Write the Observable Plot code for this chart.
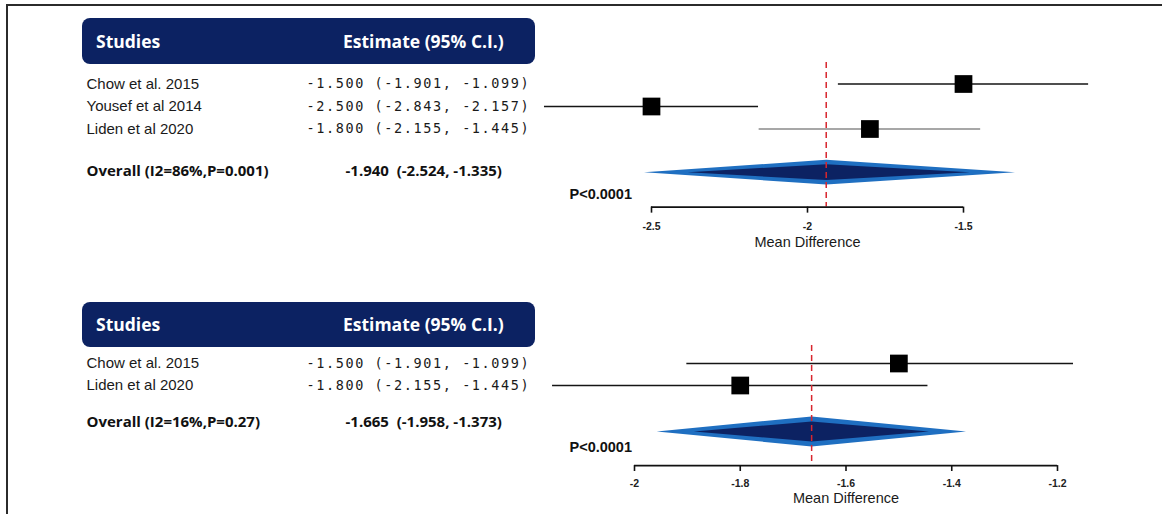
<!DOCTYPE html>
<html>
<head>
<meta charset="utf-8">
<script src="https://cdn.jsdelivr.net/npm/d3@7"></script>
<script src="https://cdn.jsdelivr.net/npm/@observablehq/plot@0.6"></script>
<style>
  html, body { margin: 0; padding: 0; background: #fff; }
  #wrap { position: relative; width: 1162px; height: 514px; overflow: hidden; background: #fff; }
  .border { position: absolute; left: 6px; top: 4px; width: 1160px; height: 514px;
            border-top: 2px solid #2b2b2b; border-left: 2px solid #2b2b2b; pointer-events: none; }
  .panel { position: absolute; left: 0; }
  .hdr { position: absolute; left: 82px; width: 453px; background: #0c2262; border-radius: 8px;
         color: #fff; font-family: "Open Sans", sans-serif; font-weight: 700; font-size: 17.5px; }
  .hdr span { position: absolute; top: 0; }
</style>
</head>
<body>
<div id="wrap"></div>
<script>
// ---- Data: panel 1 ----
const studies1 = ["Chow et al. 2015", "Yousef et al 2014", "Liden et al 2020"];
const est1 = [-1.500, -2.500, -1.800];
const lo1  = [-1.901, -2.843, -2.155];
const hi1  = [-1.099, -2.157, -1.445];
const overallLabel1 = "Overall (I2=86%,P=0.001)";
const overall1 = [-1.940, -2.524, -1.335]; // estimate, lower, upper
const pText1 = "P<0.0001";
const ticks1 = [-2.5, -2, -1.5];

// ---- Data: panel 2 ----
const studies2 = ["Chow et al. 2015", "Liden et al 2020"];
const est2 = [-1.500, -1.800];
const lo2  = [-1.901, -2.155];
const hi2  = [-1.099, -1.445];
const overallLabel2 = "Overall (I2=16%,P=0.27)";
const overall2 = [-1.665, -1.958, -1.373];
const pText2 = "P<0.0001";
const ticks2 = [-2, -1.8, -1.6, -1.4, -1.2];

const headerTexts = ["Studies", "Estimate (95% C.I.)"];
const axisTitle = "Mean Difference";

const fmt = v => v.toFixed(3);
const NAVY = "#0c2262", BLUE = "#1f6fc1", RED = "#d8262e";

function panel(data, lay) {
  const rows = data.studies.map((s, i) => ({
    name: s, est: data.est[i], lo: data.lo[i], hi: data.hi[i], row: i + 1,
    ci: `${fmt(data.est[i])} (${fmt(data.lo[i])}, ${fmt(data.hi[i])})`
  }));
  const [oe, ol, oh] = data.overall;
  const dr = lay.diamondRow;
  const outer = [
    {x: ol, y: dr}, {x: oe, y: dr - lay.dOuterH}, {x: oh, y: dr}, {x: oe, y: dr + lay.dOuterH}, {x: ol, y: dr}
  ];
  const k = 0.76;
  const inner = [
    {x: oe - k * (oe - ol), y: dr}, {x: oe, y: dr - lay.dInnerH},
    {x: oe + k * (oh - oe), y: dr}, {x: oe, y: dr + lay.dInnerH}, {x: oe - k * (oe - ol), y: dr}
  ];
  const ticks = data.ticks;
  const ax = lay.axisRow;
  const xmid = (ticks[0] + ticks[ticks.length - 1]) / 2;

  const svg = Plot.plot({
    width: 1162, height: lay.height,
    marginLeft: 0, marginRight: lay.marginRight, marginTop: 0, marginBottom: 0,
    x: {domain: [ticks[0], ticks[ticks.length - 1]], range: lay.xRange, axis: null},
    y: {domain: [1, 2], range: lay.rowY, axis: null},
    style: {background: "transparent", fontFamily: "Liberation Sans, Arial, sans-serif", overflow: "visible"},
    marks: [
      // left-hand table
      Plot.text(rows, {y: "row", text: "name", frameAnchor: "left", dx: 86, textAnchor: "start",
        fontFamily: "Liberation Sans, Arial, sans-serif", fontSize: 15, fill: "#1a1a1a"}),
      Plot.text(rows, {y: "row", text: "ci", frameAnchor: "left", dx: 306, textAnchor: "start",
        fontFamily: "DejaVu Sans Mono, monospace", fontSize: 13.5, fill: "#1a1a1a"}),
      Plot.text([data.overallLabel], {y: () => lay.overallTextRow, text: d => d, frameAnchor: "left", dx: 86,
        textAnchor: "start", fontFamily: "Open Sans, sans-serif", fontWeight: 700, fontSize: 15, fill: "#111"}),
      Plot.text([data.overall], {y: () => lay.overallTextRow,
        text: d => `${fmt(d[0])}\u00a0 (${fmt(d[1])}, ${fmt(d[2])})`, frameAnchor: "left", dx: 345,
        textAnchor: "start", fontFamily: "Open Sans, sans-serif", fontWeight: 700, fontSize: 15, fill: "#111"}),
      // CI lines
      Plot.ruleY(rows, {y: "row", x1: "lo", x2: "hi", clip: true, strokeWidth: 1.6,
        stroke: (d, i) => lay.grayRows.includes(i) ? "#8a8a8a" : "#151515"}),
      // squares
      Plot.dot(rows, {x: "est", y: "row", symbol: "square", r: 10, fill: "#000", stroke: "none"}),
      // diamond
      Plot.line(outer, {x: "x", y: "y", fill: BLUE, stroke: "none", curve: "linear-closed"}),
      Plot.line(inner, {x: "x", y: "y", fill: NAVY, stroke: "none", curve: "linear-closed"}),
      // overall dashed reference line
      Plot.ruleX([oe], {x: d => d, y1: lay.dashTop, y2: ax, stroke: RED, strokeWidth: 1.5, strokeDasharray: "6,4"}),
      // P value
      Plot.text([data.pText], {y: () => lay.pRow, text: d => d, frameAnchor: "left", dx: 569, textAnchor: "start",
        fontFamily: "Liberation Sans, Arial, sans-serif", fontWeight: 700, fontSize: 14.5, fill: "#111"}),
      // axis
      Plot.ruleY([ax], {y: d => d, x1: ticks[0], x2: ticks[ticks.length - 1], stroke: "#111", strokeWidth: 1.6}),
      Plot.ruleX(ticks, {x: d => d, y1: ax, y2: ax + lay.tickLen, stroke: "#111", strokeWidth: 1.6}),
      Plot.text(ticks, {x: d => d, y: () => ax, dy: lay.tickDy, text: d => String(d),
        fontFamily: "Liberation Sans, Arial, sans-serif", fontSize: 10.5, fontWeight: 700, fill: "#222"}),
      Plot.text([axisTitle], {x: () => xmid, y: () => ax, dy: lay.titleDy, text: d => d,
        fontFamily: "Liberation Sans, Arial, sans-serif", fontSize: 14.5, fill: "#1a1a1a"})
    ]
  });
  svg.querySelectorAll('g[font-family^="DejaVu Sans Mono"]').forEach(g => g.setAttribute("letter-spacing", "1.6px"));

  const div = document.createElement("div");
  div.className = "panel";
  div.style.top = lay.top + "px";
  div.style.width = "1162px";
  div.style.height = lay.height + "px";
  div.appendChild(svg);

  const hdr = document.createElement("div");
  hdr.className = "hdr";
  hdr.style.top = lay.hdrTop + "px";
  hdr.style.height = lay.hdrH + "px";
  hdr.style.lineHeight = lay.hdrH + "px";
  const s1 = document.createElement("span"); s1.textContent = headerTexts[0]; s1.style.left = "14px";
  const s2 = document.createElement("span"); s2.textContent = headerTexts[1]; s2.style.left = "261px";
  hdr.appendChild(s1); hdr.appendChild(s2);
  div.appendChild(hdr);
  return div;
}

const wrap = document.getElementById("wrap");
wrap.appendChild(panel(
  {studies: studies1, est: est1, lo: lo1, hi: hi1, overallLabel: overallLabel1, overall: overall1, pText: pText1, ticks: ticks1},
  {top: 0, height: 258, marginRight: 0, xRange: [651, 963], rowY: [83.5, 106],
   overallTextRow: 4.89, diamondRow: 4.92, pRow: 5.91, axisRow: 6.47, dashTop: 0.04,
   dOuterH: 0.55, dInnerH: 0.35, tickLen: 0.27, tickDy: 20, titleDy: 35, grayRows: [2], hdrTop: 18, hdrH: 46}
));
wrap.appendChild(panel(
  {studies: studies2, est: est2, lo: lo2, hi: hi2, overallLabel: overallLabel2, overall: overall2, pText: pText2, ticks: ticks2},
  {top: 258, height: 256, marginRight: 89, xRange: [634, 1057], rowY: [105, 127],
   overallTextRow: 3.65, diamondRow: 4.09, pRow: 4.82, axisRow: 5.64, dashTop: 0.18,
   dOuterH: 0.68, dInnerH: 0.45, tickLen: 0.27, tickDy: 18, titleDy: 33, grayRows: [], hdrTop: 44, hdrH: 45}
));
const b = document.createElement("div"); b.className = "border"; wrap.appendChild(b);
</script>
</body>
</html>
